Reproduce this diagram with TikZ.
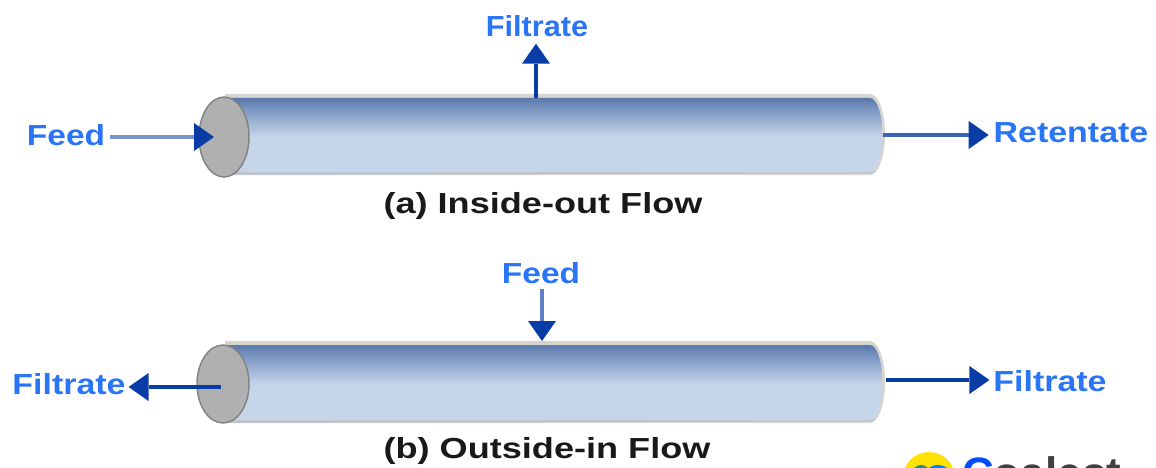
\documentclass[tikz,border=0pt]{standalone}
\usepackage{fontspec}
\usetikzlibrary{arrows.meta,shapes.geometric}
\setmainfont{Liberation Sans}
\newfontfamily\tagwide[FakeStretch=1.17]{Liberation Sans}
\newfontfamily\tagmid[FakeStretch=1.155]{Liberation Sans}
\newfontfamily\tagnarrow[FakeStretch=1.056]{Liberation Sans}
\newfontfamily\capwide[FakeStretch=1.245]{Liberation Sans}
\newfontfamily\logofont{Liberation Sans}
\definecolor{flowblue}{HTML}{0A3CA8}
\definecolor{labelblue}{HTML}{2A74F6}
\definecolor{rimtop}{HTML}{D6D4CE}
\definecolor{rimlow}{HTML}{BFC5CE}
\definecolor{capgrey}{HTML}{B0B0B0}
\definecolor{tubea}{HTML}{C6D6EA}
\definecolor{tubeb}{HTML}{C4D5EA}
\definecolor{tubec}{HTML}{A5BAD9}
\definecolor{tubed}{HTML}{7E98C4}
\definecolor{tubee}{HTML}{5A78AC}
% The path's bounding box covers the 25bp to 75bp band of the shading
\pgfdeclareverticalshading{tubeshade}{100bp}{
  color(0bp)=(tubea);
  color(25bp)=(tubea);
  color(49bp)=(tubeb);
  color(57bp)=(tubec);
  color(67bp)=(tubed);
  color(75bp)=(tubee);
  color(100bp)=(tubee)}
\tikzset{
  x=1pt,y=-1pt,
  flow/.style={draw=flowblue,line width=4pt,-{Triangle[length=20pt,width=28pt,color=flowblue,line width=0pt]}},
  tag/.style={text=labelblue,inner sep=0pt,outer sep=5pt},
  widetag/.style={tag,font=\tagwide\bfseries\fontsize{29}{29}\selectfont},
  midtag/.style={tag,font=\tagmid\bfseries\fontsize{29}{29}\selectfont},
  narrowtag/.style={tag,font=\tagnarrow\bfseries\fontsize{29}{29}\selectfont},
  caption/.style={text=black!90,font=\capwide\bfseries\fontsize{29}{29}\selectfont,inner sep=0pt},
  tubecap/.style={ellipse,draw=gray,fill=capgrey,line width=1.4pt,inner sep=0pt},
}
% One membrane tube: pale rim, shaded body with a rounded far end
% #1 top edge, #2 height
\newcommand{\tube}[2]{%
  \fill[rimtop] (225,#1) -- (870,#1) arc[start angle=-90,end angle=90,x radius=15,y radius=#2/2] -- (225,#1+#2) -- cycle;
  \fill[rimlow] (225,#1+#2-4) -- (876,#1+#2-4) arc[start angle=70,end angle=90,x radius=15,y radius=#2/2] -- (225,#1+#2) -- cycle;
  \shade[shading=tubeshade]
    (225,#1+4) -- (870,#1+4) arc[start angle=-90,end angle=90,x radius=12.5,y radius=#2/2-3.5] -- (225,#1+#2-3) -- cycle;
}
\begin{document}
\begin{tikzpicture}
\useasboundingbox (0,0) rectangle (1156,468);
\begin{scope}
\clip (0,0) rectangle (1156,468);
\tube{94}{81}
\tube{341}{82}
\node[tubecap,minimum width=50pt,minimum height=80pt] (capa) at (224,137) {};
\node[tubecap,minimum width=52pt,minimum height=78pt] (capb) at (223,384) {};
% Connector anchor points on the tubes
\coordinate (tubeaR) at (883,135);
\coordinate (tubeaT) at (536,98);
\coordinate (tubebR) at (886,380);
\coordinate (tubebT) at (542,341);
\coordinate (capaH) at (214,137);
\coordinate (capbH) at (221,387);
% Labels
\node[midtag] (feeda) at (66,135) {Feed};
\node[narrowtag,outer sep=7pt] (filta) at (537,26) {Filtrate};
\node[widetag] (reta) at (1071,133) {Retentate};
\node[caption] (capta) at (543,206) {(a) Inside-out Flow};
\node[midtag] (feedb) at (541,273) {Feed};
\node[widetag,outer sep=3pt] (filtbl) at (69,384) {Filtrate};
\node[widetag,outer sep=4pt] (filtbr) at (1050,381) {Filtrate};
\node[caption] (captb) at (547,451) {(b) Outside-in Flow};
% Flow connectors
\draw[flow,draw=flowblue!55] (capaH -| feeda.east) -- (capaH);
\draw[flow] (tubeaT) -- (tubeaT |- filta.south);
\draw[flow,draw=flowblue!80] (tubeaR) -- (tubeaR -| reta.west);
\draw[flow,draw=flowblue!65] (tubebT |- feedb.south) -- (tubebT);
\draw[flow] (capbH) -- (capbH -| filtbl.east);
\draw[flow] (tubebR) -- (tubebR -| filtbr.west);
% Company mark, running off the lower edge
\fill[yellow!85!orange] (929,478) circle[radius=26];
\fill[teal!60!gray] (921,474) circle[radius=9];
\fill[blue!50!cyan] (938,480) circle[radius=15];
\node[inner sep=0pt,anchor=base west,font=\logofont\bfseries\fontsize{44}{44}\selectfont,text=black!75] (logo) at (962,488) {\textcolor{blue!70!cyan}{C}oalest};
\end{scope}
\end{tikzpicture}
\end{document}
